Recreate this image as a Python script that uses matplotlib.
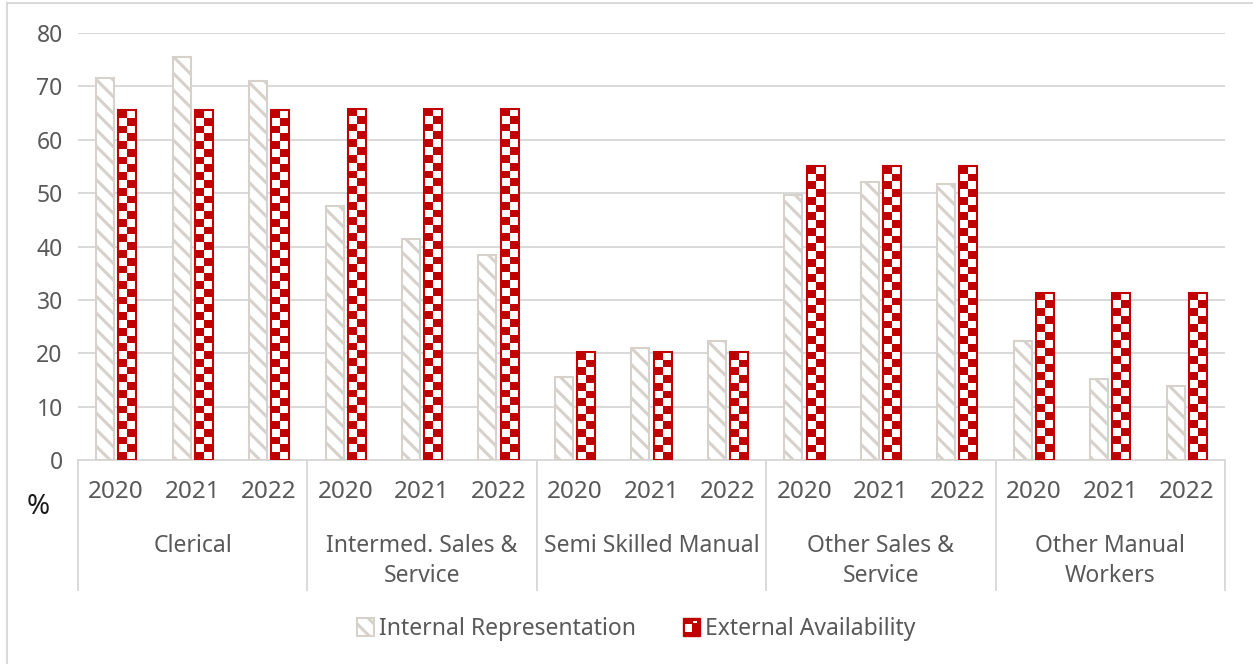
import matplotlib.pyplot as plt
import numpy as np
from matplotlib.patches import Rectangle, Patch
from matplotlib.legend_handler import HandlerBase
from matplotlib.lines import Line2D
import matplotlib.transforms as mtransforms

plt.rcParams["font.family"] = ["Noto Sans", "DejaVu Sans"]
plt.rcParams["hatch.linewidth"] = 2.2

groups = ["Clerical", "Intermed. Sales &\nService", "Semi Skilled Manual",
          "Other Sales &\nService", "Other Manual\nWorkers"]
years = ["2020", "2021", "2022"]

internal = [71.5, 75.5, 71.1,
            47.5, 41.4, 38.4,
            15.5, 21.0, 22.3,
            49.7, 52.0, 51.8,
            22.3, 15.2, 13.8]
external = [65.5, 65.5, 65.5,
            65.8, 65.8, 65.8,
            20.2, 20.2, 20.2,
            55.0, 55.0, 55.0,
            31.3, 31.3, 31.3]

GRAY = "#D6D1CB"
RED = "#C00000"
TXT = "#595959"
GRID = "#D9D9D9"

fig = plt.figure(figsize=(12.53, 6.64), dpi=100)
W, H = 1253, 664
ax = fig.add_axes([78 / W, 1 - 460 / H, (1225 - 78) / W, (460 - 33) / H])

x = np.arange(len(internal))
bw = 0.235
off = 0.145

ax.bar(x - off, internal, bw, facecolor="white", edgecolor=GRAY,
       hatch="\\\\", linewidth=1.5, zorder=3)

ext_bars = ax.bar(x + off, external, bw, facecolor="none", edgecolor=RED,
                  linewidth=1.5, zorder=4)

# checkerboard fill for the external bars
px_per_unit = (460 - 33) / 80.0
sq = 7.8
for rect in ext_bars:
    h = rect.get_height()
    nrows = max(1, int(round(h * px_per_unit / sq)))
    chk = (np.indices((nrows, 2)).sum(axis=0) % 2).astype(float)
    rgb = np.where(chk[..., None] == 1, [1, 1, 1], [0.753, 0, 0])
    x0 = rect.get_x()
    im = ax.imshow(rgb, extent=(x0, x0 + rect.get_width(), 0, h),
                   aspect="auto", interpolation="nearest", zorder=3.5)
    im.set_clip_path(rect)

ax.set_xlim(-0.5, len(internal) - 0.5)
ax.set_ylim(0, 80)
ax.set_yticks(range(0, 81, 10))
ax.yaxis.grid(True, color=GRID, linewidth=1.4, zorder=0)
ax.set_axisbelow(True)
for s in ["left", "right", "top"]:
    ax.spines[s].set_visible(False)
ax.spines["bottom"].set_color(GRID)
ax.spines["bottom"].set_linewidth(1.4)
ax.tick_params(axis="y", length=0, pad=11, labelsize=16.5, labelcolor=TXT)
ax.tick_params(axis="x", length=0, labelbottom=False)

# two-level category axis
tr = mtransforms.blended_transform_factory(ax.transData, fig.transFigure)
for i in x:
    ax.text(i, 1 - 492 / H, years[i % 3], transform=tr, ha="center",
            va="center", fontsize=17.5, color=TXT)
for g, name in enumerate(groups):
    ax.text(3 * g + 1, 1 - 534 / H, name, transform=tr, ha="center",
            va="top", fontsize=16.5, color=TXT, linespacing=1.36)
for b in np.arange(-0.5, len(internal), 3):
    ax.add_line(Line2D([b, b], [1 - 460 / H, 1 - 590 / H], transform=tr,
                       color=GRID, linewidth=1.4, clip_on=False))

fig.text(38 / W, 1 - 507 / H, "%", ha="center", va="center", fontsize=20,
         color="#1a1a1a")


class CheckerHandler(HandlerBase):
    def create_artists(self, legend, orig_handle, xdescent, ydescent,
                       width, height, fontsize, trans):
        s = min(width, height)
        x0 = xdescent + (width - s) / 2
        y0 = -ydescent
        base = Rectangle((x0, y0), s, s, facecolor=RED, edgecolor=RED,
                         linewidth=1, transform=trans)
        w1 = Rectangle((x0 + s * 0.15, y0 + s * 0.2), s * 0.4, s * 0.45,
                       facecolor="white", edgecolor="none", transform=trans)
        w2 = Rectangle((x0 + s * 0.6, y0 + s * 0.72), s * 0.25, s * 0.15,
                       facecolor="white", edgecolor="none", transform=trans)
        return [base, w1, w2]


class SquareHatchHandler(HandlerBase):
    def create_artists(self, legend, orig_handle, xdescent, ydescent,
                       width, height, fontsize, trans):
        s = min(width, height)
        x0 = xdescent + (width - s) / 2
        r = Rectangle((x0, -ydescent), s, s, facecolor="white",
                      edgecolor=GRAY, hatch="\\\\", linewidth=1.5,
                      transform=trans)
        return [r]


h_int = Patch(label="Internal Representation")
h_ext = Patch(label="External Availability")
fig.legend(handles=[h_int, h_ext],
           handler_map={h_int: SquareHatchHandler(), h_ext: CheckerHandler()},
           loc="center", bbox_to_anchor=(636 / W, 1 - 629 / H), ncol=2,
           frameon=False, fontsize=16.5, labelcolor=TXT, handlelength=0.8,
           handleheight=0.8, handletextpad=0.2, columnspacing=2.0)

# chart frame
fig.add_artist(Line2D([7 / W, 7 / W], [0, 1 - 3 / H], color=GRID,
                      linewidth=1.5, transform=fig.transFigure))
fig.add_artist(Line2D([7 / W, 1], [1 - 3 / H, 1 - 3 / H], color=GRID,
                      linewidth=1.5, transform=fig.transFigure))

fig.savefig("out.png", dpi=100)
